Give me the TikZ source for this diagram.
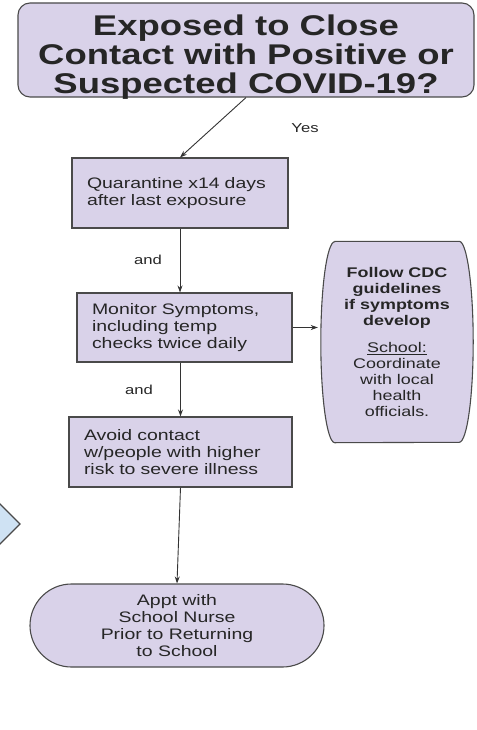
\documentclass[tikz,border=0pt]{standalone}
\usepackage{fontspec}
\setmainfont[FakeStretch=1.28]{Liberation Sans}
\usepackage{tikz}
\usetikzlibrary{shapes.misc,backgrounds,arrows.meta}
\definecolor{lavender}{HTML}{D9D2E9}
\definecolor{paleblue}{HTML}{CFE2F3}
\definecolor{edgegray}{HTML}{4A4A4A}
\tikzset{>={Stealth[length=7pt,width=5pt]}}
\tikzset{
  box/.style={draw=edgegray,fill=lavender,line width=1.1pt,align=left,
    font=\fontsize{15.2}{17}\selectfont,inner xsep=15pt,text=black!85},
  lbl/.style={font=\fontsize{13}{15}\selectfont,text=black!85},
  link/.style={->,line width=0.9pt,draw=black!80}
}

\begin{document}
\begin{tikzpicture}[x=1pt,y=-1pt]
\useasboundingbox (0,0) rectangle (476,730);
\clip (0,0) rectangle (476,730);
% diamond cut off by the left edge
\draw[draw=edgegray,fill=paleblue,line width=1.1pt] (20,524) -- (-60,444) -- (-140,524) -- (-60,604) -- cycle;

\node[box,rounded corners=12pt,align=center,minimum width=456pt,minimum height=94pt,
  inner ysep=0pt,text depth=0pt,font=\fontsize{28.5}{29}\selectfont\bfseries] (exposed) at (246,50)
  {\rule{0pt}{29pt}Exposed to Close\\Contact with Positive or\\Suspected COVID-19?};
\node[box,minimum width=216pt,minimum height=70pt,text width=186pt] (quarantine) at (180,193)
  {Quarantine x14 days\\after last exposure};
\node[box,minimum width=215pt,minimum height=69pt,text width=185pt] (monitor) at (184.5,327.5)
  {Monitor Symptoms,\\including temp\\checks twice daily};
\node[box,minimum width=223pt,minimum height=70pt,text width=193pt] (avoid) at (180.5,452)
  {Avoid contact\\w/people with higher\\risk to severe illness};
\node[align=center,minimum width=152pt,minimum height=201pt,inner sep=0pt,
  font=\fontsize{14}{16}\selectfont,text=black!85] (cdc) at (397,342)
  {\textbf{Follow CDC}\\\textbf{guidelines}\\\textbf{if symptoms}\\\textbf{develop}\\[11pt]
   \underline{School:}\\Coordinate\\with local\\health\\officials.};
\begin{scope}[on background layer]
\draw[draw=edgegray,fill=lavender,line width=1.1pt]
  ([xshift=14pt]cdc.north west) -- ([xshift=-14pt]cdc.north east)
  arc[start angle=-90,end angle=90,x radius=14,y radius=100.5]
  -- ([xshift=14pt]cdc.south west)
  arc[start angle=90,end angle=270,x radius=14,y radius=100.5] -- cycle;
\end{scope}
\node[box,rounded rectangle,align=center,minimum width=324pt,minimum height=83pt] (appt) at (177,625.5)
  {Appt with\\School Nurse\\Prior to Returning\\to School};

\draw[link] (exposed.south) -- (quarantine.north);
\node[lbl] (yes) at (305,128) {Yes};
\draw[link] (quarantine.south) -- (quarantine.south |- monitor.north);
\node[lbl] (and1) at (148,260) {and};
\draw[link] (avoid.north |- monitor.south) -- (avoid.north);
\node[lbl] (and2) at (139,390) {and};
\draw[link] (avoid.south) -- (appt.north);
\draw[link,shorten >=3pt] (monitor.east) -- (cdc.west |- monitor.east);
\end{tikzpicture}
\end{document}
